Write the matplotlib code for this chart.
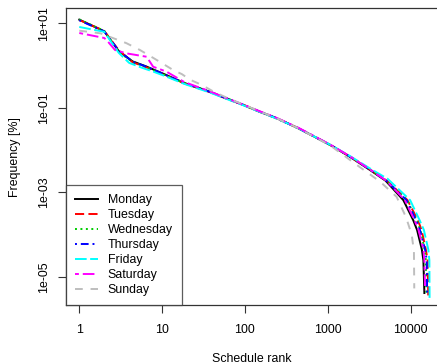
import matplotlib
matplotlib.use("Agg")
import matplotlib.pyplot as plt
from matplotlib.ticker import FixedLocator, NullLocator

plt.rcParams['font.family'] = ['Liberation Sans', 'DejaVu Sans']

# 데이터: 요일별 (순위, 빈도[%]) - 그림에서 읽은 값
days = ['Monday', 'Tuesday', 'Wednesday', 'Thursday', 'Friday', 'Saturday', 'Sunday']

mon_rank = [1, 2, 3, 4.4, 6.4, 11, 18.5, 38, 60, 96, 152, 242, 442, 1070, 1850, 3240, 5000,
            8190, 10800, 12000, 13700, 14300, 14700]
mon_freq = [12.2, 6.5, 2.2, 1.26, 0.96, 0.61, 0.39, 0.24, 0.169, 0.117, 0.081, 0.057, 0.033,
            0.0133, 0.0070, 0.0034, 0.0019, 6.6e-4, 2.2e-4, 1.3e-4, 4.5e-5, 2.5e-5, 4.2e-6]

tue_rank = [1, 2, 3, 4.4, 6.4, 11, 18.5, 38, 60, 96, 152, 242, 442, 1070, 1850, 3240, 5200,
            9200, 12300, 13600, 15300, 16100, 16400]
tue_freq = [12.0, 6.6, 2.3, 1.2, 0.92, 0.58, 0.38, 0.235, 0.165, 0.118, 0.080, 0.057, 0.033,
            0.0134, 0.0071, 0.0035, 0.0019, 6.6e-4, 2.2e-4, 1.3e-4, 4.5e-5, 2.5e-5, 2.9e-6]

wed_rank = [1, 2, 3, 4.4, 6.4, 11, 18.5, 38, 60, 96, 152, 242, 442, 1070, 1850, 3240, 5100,
            9100, 11900, 13200, 14800, 15300, 15500]
wed_freq = [12.4, 6.6, 2.1, 1.22, 0.93, 0.59, 0.39, 0.24, 0.168, 0.117, 0.081, 0.056, 0.033,
            0.0133, 0.0071, 0.0035, 0.0019, 6.6e-4, 2.2e-4, 1.3e-4, 4.5e-5, 2.5e-5, 4.2e-6]

thu_rank = [1, 2, 3, 4.4, 6.4, 11, 18.5, 38, 60, 96, 152, 242, 442, 1070, 1850, 3240, 5100,
            8940, 11700, 13000, 15000, 15700, 15900]
thu_freq = [11.8, 6.4, 2.25, 1.24, 0.95, 0.6, 0.385, 0.238, 0.167, 0.118, 0.081, 0.057, 0.033,
            0.0134, 0.0071, 0.0035, 0.0019, 6.6e-4, 2.2e-4, 1.3e-4, 4.5e-5, 2.5e-5, 3.8e-6]

fri_rank = [1, 2, 3, 4.0, 5.8, 7.7, 11, 18.5, 38, 60, 96, 152, 242, 442, 1070, 1850, 3240,
            5300, 9900, 12900, 14500, 16400, 16900, 17000]
fri_freq = [8.2, 6.3, 2.0, 1.16, 0.88, 0.73, 0.56, 0.37, 0.23, 0.163, 0.115, 0.080, 0.056, 0.033,
            0.0135, 0.0073, 0.0037, 0.0021, 6.6e-4, 2.2e-4, 1.3e-4, 4.5e-5, 2.5e-5, 3.2e-6]

sat_rank = [1, 2, 2.14, 2.7, 3.7, 6.5, 7.8, 11.3, 18.5, 38, 60, 96, 152, 242, 442, 1070, 1850,
            3240, 5100, 8550, 11200, 12500, 14300, 14700, 15000]
sat_freq = [5.9, 4.5, 4.0, 2.34, 1.95, 1.62, 0.94, 0.72, 0.41, 0.245, 0.17, 0.119, 0.083, 0.058,
            0.034, 0.0136, 0.0072, 0.0035, 0.0019, 6.6e-4, 2.2e-4, 1.3e-4, 4.5e-5, 2.5e-5, 4.9e-6]

sun_rank = [1, 1.8, 3.7, 5.4, 8.6, 13.7, 17.3, 22, 30, 42.3, 60, 96, 152, 242, 442, 1070, 2240,
            4300, 6800, 8830, 10350, 11000, 11100]
sun_freq = [6.7, 5.8, 3.4, 2.34, 1.36, 0.78, 0.63, 0.46, 0.35, 0.24, 0.175, 0.12, 0.082, 0.057,
            0.033, 0.0130, 0.0045, 0.0018, 7.9e-4, 2.6e-4, 1.0e-4, 4.0e-5, 5.4e-6]

ranks = [mon_rank, tue_rank, wed_rank, thu_rank, fri_rank, sat_rank, sun_rank]
freqs = [mon_freq, tue_freq, wed_freq, thu_freq, fri_freq, sat_freq, sun_freq]

colors = ['black', 'red', '#00CD00', 'blue', 'cyan', 'magenta', '#BEBEBE']
dashes = [None, (4.7, 2.2), (1, 1.8), (1, 2, 4, 2), (6, 1.8), (2, 2, 6, 2), (4, 4)]

x_ticks = [1, 10, 100, 1000, 10000]
x_labels = ['1', '10', '100', '1000', '10000']
y_ticks = [1e1, 1e-1, 1e-3, 1e-5]
y_labels = ['1e+01', '1e-01', '1e-03', '1e-05']

W, H = 437, 364
fig = plt.figure(figsize=(W / 100, H / 100), dpi=100)
ax = fig.add_axes([65.7 / W, 58.7 / H, 377.6 / W, 297.3 / H])

lw = 1.4
for i in range(len(days)):
    line, = ax.plot(ranks[i], freqs[i], color=colors[i], lw=lw, label=days[i])
    if dashes[i] is not None:
        line.set_dashes(dashes[i])

ax.set_xscale('log')
ax.set_yscale('log')
ax.set_xlim(10 ** -0.164, 10 ** 4.396)
ax.set_ylim(10 ** -5.667, 10 ** 1.362)

ax.xaxis.set_major_locator(FixedLocator(x_ticks))
ax.xaxis.set_minor_locator(NullLocator())
ax.set_xticklabels(x_labels)
ax.yaxis.set_major_locator(FixedLocator(y_ticks))
ax.yaxis.set_minor_locator(NullLocator())
ax.set_yticklabels(y_labels, rotation=90, va='center')

ax.tick_params(axis='both', length=5.8, width=0.8, color='#333333', labelsize=8.9)
ax.tick_params(axis='x', pad=8)
ax.tick_params(axis='y', pad=5.5)
for s in ax.spines.values():
    s.set_linewidth(0.9)
    s.set_color('#333333')

fig.text(252 / W, (H - 362) / H, 'Schedule rank', ha='center', va='baseline', fontsize=8.9)
fig.text(15.5 / W, 1 - 156.7 / H, 'Frequency [%]', ha='center', va='center', rotation=90,
         fontsize=8.9)

leg = ax.legend(loc='lower left', borderaxespad=0, fancybox=False, fontsize=8.9,
                handlelength=1.9, handletextpad=0.75, labelspacing=0.24, borderpad=0.75)
leg.get_frame().set_edgecolor('#333333')
leg.get_frame().set_linewidth(0.9)

fig.savefig('out.png', dpi=100)
